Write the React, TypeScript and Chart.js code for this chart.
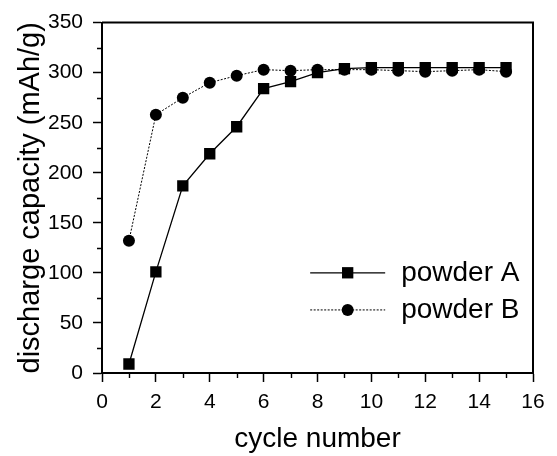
import React, { useEffect, useRef } from "react";
import { Chart, registerables } from "chart.js";

Chart.register(...registerables);

const cycles = [1, 2, 3, 4, 5, 6, 7, 8, 9, 10, 11, 12, 13, 14, 15];
const powderA = [9, 101, 187, 219, 246, 284, 291, 300, 304, 305, 305, 305, 305, 305, 305];
const powderB = [132, 258, 275, 290, 297, 303, 302, 303, 303, 303, 302, 301, 302, 303, 301];
const yMinorTicks = [25, 75, 125, 175, 225, 275, 325];
const xMinorTicks = [1, 3, 5, 7, 9, 11, 13, 15];
const legendLabels = ["powder A", "powder B"];

const FONT = "'Liberation Sans', Arial, Helvetica, sans-serif";

const framePlugin = {
  id: "frame",
  afterDraw(chart: any) {
    const { ctx, chartArea } = chart;
    const { left, right, top, bottom } = chartArea;
    const xs = chart.scales.x;
    const ys = chart.scales.y;
    ctx.save();
    ctx.strokeStyle = "#000";
    ctx.lineWidth = 2;
    ctx.beginPath();
    ctx.moveTo(left, top);
    ctx.lineTo(right, top);
    ctx.lineTo(right, bottom);
    ctx.stroke();
    ctx.lineWidth = 1.4;
    ctx.beginPath();
    for (const v of yMinorTicks) {
      const py = Math.round(ys.getPixelForValue(v)) + 0.5;
      ctx.moveTo(left - 5, py);
      ctx.lineTo(left, py);
    }
    for (const v of xMinorTicks) {
      const px = Math.round(xs.getPixelForValue(v)) + 0.5;
      ctx.moveTo(px, bottom);
      ctx.lineTo(px, bottom + 5);
    }
    ctx.stroke();

    // legend
    const lx0 = left + (right - left) * 0.483;
    const lx1 = lx0 + 75;
    const rows = [
      { y: top + (bottom - top) * 0.714, dash: [] as number[], style: "rect", r: 8 },
      { y: top + (bottom - top) * 0.82, dash: [2, 1.5], style: "circle", r: 6 },
    ];
    rows.forEach((row, i) => {
      ctx.setLineDash(row.dash);
      ctx.lineWidth = i === 0 ? 1.3 : 1;
      ctx.beginPath();
      ctx.moveTo(lx0, row.y);
      ctx.lineTo(lx1, row.y);
      ctx.stroke();
      ctx.setLineDash([]);
      ctx.fillStyle = "#000";
      const mx = (lx0 + lx1) / 2;
      if (row.style === "rect") {
        const s = row.r * Math.SQRT1_2;
        ctx.fillRect(mx - s, row.y - s, 2 * s, 2 * s);
      } else {
        ctx.beginPath();
        ctx.arc(mx, row.y, row.r, 0, Math.PI * 2);
        ctx.fill();
      }
      ctx.font = `28px ${FONT}`;
      ctx.textBaseline = "middle";
      ctx.textAlign = "left";
      ctx.fillText(legendLabels[i], lx1 + 16, row.y);
    });
    ctx.restore();
  },
};

export default function App() {
  const ref = useRef<HTMLCanvasElement | null>(null);
  useEffect(() => {
    if (!ref.current) return;
    const chart = new Chart(ref.current, {
      type: "line",
      data: {
        datasets: [
          {
            label: legendLabels[0],
            data: cycles.map((c, i) => ({ x: c, y: powderA[i] })),
            borderColor: "#000",
            backgroundColor: "#000",
            borderWidth: 1.3,
            pointStyle: "rect",
            pointRadius: 8,
            pointBorderWidth: 0,
          },
          {
            label: legendLabels[1],
            data: cycles.map((c, i) => ({ x: c, y: powderB[i] })),
            borderColor: "#000",
            backgroundColor: "#000",
            borderWidth: 1,
            borderDash: [2, 1.5],
            pointStyle: "circle",
            pointRadius: 6,
            pointBorderWidth: 0,
          },
        ],
      },
      options: {
        animation: false,
        responsive: false,
        layout: { padding: { top: 17, right: 24, bottom: 0, left: 0 } },
        plugins: { legend: { display: false }, tooltip: { enabled: false } },
        scales: {
          x: {
            type: "linear",
            min: 0,
            max: 16,
            afterFit(scale: any) {
              scale.height = 83;
            },
            ticks: { stepSize: 2, color: "#000", padding: 8, font: { family: FONT, size: 21 } },
            grid: { drawOnChartArea: false, drawTicks: true, tickLength: 9, color: "#000", tickWidth: 1.5 },
            border: { display: true, color: "#000", width: 2 },
            title: {
              display: true,
              text: "cycle number",
              color: "#000",
              font: { family: FONT, size: 28 },
              padding: { top: 0, bottom: 0 },
            },
          },
          y: {
            min: 0,
            max: 350,
            afterFit(scale: any) {
              scale.width = 102;
            },
            ticks: { stepSize: 50, color: "#000", padding: 10, font: { family: FONT, size: 21 } },
            grid: { drawOnChartArea: false, drawTicks: true, tickLength: 9, color: "#000", tickWidth: 1.5 },
            border: { display: true, color: "#000", width: 2 },
            title: {
              display: true,
              text: "discharge capacity (mAh/g)",
              color: "#000",
              font: { family: FONT, size: 29 },
              padding: { top: 14, bottom: 0 },
            },
          },
        },
      },
      plugins: [framePlugin],
    });
    return () => chart.destroy();
  }, []);
  return (
    <canvas
      ref={ref}
      width={557}
      height={456}
      style={{ position: "absolute", left: 0, top: 0, width: 557, height: 456, background: "#fff" }}
    />
  );
}
